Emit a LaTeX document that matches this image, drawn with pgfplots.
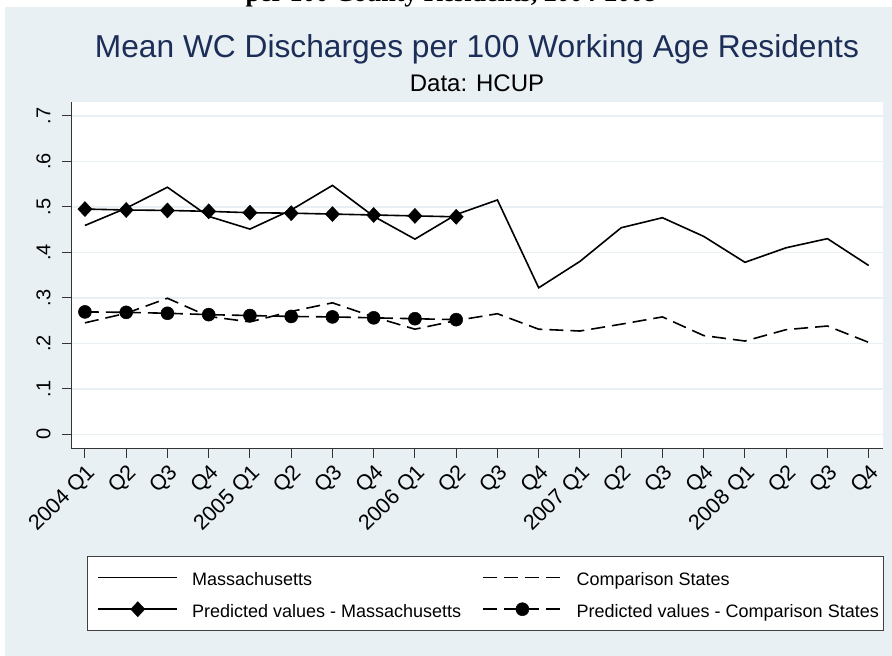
\documentclass[border=0pt]{standalone}
\usepackage{fontspec}
\setmainfont{Liberation Sans}
\newfontfamily\serifbold{Liberation Serif}
\usepackage{pgfplots}
\pgfplotsset{compat=1.18}
\definecolor{bgc}{RGB}{232,240,243}
\definecolor{navy}{RGB}{28,46,88}
\begin{document}
\begin{tikzpicture}
\useasboundingbox (0,0) rectangle (892pt,656pt);
\fill[white] (0,0) rectangle (892pt,656pt);
\begin{scope}
\clip (0,649pt) rectangle (892pt,656pt);
\node[anchor=base, font=\serifbold\bfseries\fontsize{26}{30}\selectfont, inner sep=0pt] at (451pt,654.5pt) {per 100 County Residents, 2004-2008};
\end{scope}
\fill[bgc] (5pt,0) rectangle (892pt,649pt);
\begin{axis}[
  name=ax,
  at={(71pt,207pt)}, anchor=south west,
  scale only axis, width=812pt, height=347.3pt,
  xmin=-0.338, xmax=19.347, ymin=-0.0323, ymax=0.731,
  axis background/.style={fill=white},
  axis x line*=bottom, axis y line*=left,
  axis line style={black!80, line width=1pt},
  xtick={0,...,19},
  xticklabels={2004 Q1,Q2,Q3,Q4,2005 Q1,Q2,Q3,Q4,2006 Q1,Q2,Q3,Q4,2007 Q1,Q2,Q3,Q4,2008 Q1,Q2,Q3,Q4},
  ytick={0,0.1,0.2,0.3,0.4,0.5,0.6,0.7},
  yticklabels={0,.1,.2,.3,.4,.5,.6,.7},
  tick align=outside, major tick length=9pt,
  tick style={black!80, line width=1pt},
  xticklabel style={font=\fontsize{21.5}{24}\selectfont, rotate=45, anchor=north east},
  yticklabel style={font=\fontsize{20}{24}\selectfont, rotate=90, anchor=south},
  yticklabel shift=8pt,
  /pgf/number format/assume math mode=true,
  ymajorgrids, major grid style={bgc, line width=1.5pt},
  legend columns=2,
  legend cell align=left,
  legend image code/.code={\path (0pt,0pt) (98pt,0pt); \draw[mark repeat=2,mark phase=2,#1] plot coordinates {(5pt,0pt) (44.5pt,0pt) (84pt,0pt)};},
  legend style={at={(0.0197,-0.3081)}, anchor=north west, draw=black!75, fill=white, line width=1pt,
    inner xsep=5pt, inner ysep=8pt, column sep=0pt, row sep=5.7pt,
    font=\fontsize{18}{20}\selectfont,
    nodes={inner sep=0pt, text height=21pt, text depth=5pt}},
]
\addplot[black, line width=1.6pt] coordinates {
(0,0.459) (1,0.497) (2,0.543) (3,0.479) (4,0.451) (5,0.493) (6,0.547) (7,0.479) (8,0.429) (9,0.483)
(10,0.515) (11,0.322) (12,0.380) (13,0.454) (14,0.476) (15,0.435) (16,0.378) (17,0.410) (18,0.430) (19,0.371)};
\addlegendentry{\makebox[285pt][l]{Massachusetts}}
\addplot[black, line width=1.6pt, dash pattern=on 14pt off 7pt] coordinates {
(0,0.245) (1,0.266) (2,0.299) (3,0.259) (4,0.247) (5,0.270) (6,0.289) (7,0.258) (8,0.231) (9,0.250)
(10,0.265) (11,0.231) (12,0.227) (13,0.242) (14,0.258) (15,0.217) (16,0.205) (17,0.230) (18,0.238) (19,0.202)};
\addlegendentry{Comparison States}
\addplot[black, line width=1.6pt, mark=diamond*, mark size=7.5pt, mark options={solid, line width=0.5pt, xscale=1.25}] coordinates {
(0,0.495) (1,0.493) (2,0.492) (3,0.490) (4,0.487) (5,0.486) (6,0.484) (7,0.482) (8,0.480) (9,0.478)};
\addlegendentry{\makebox[285pt][l]{Predicted values - Massachusetts}}
\addplot[black, line width=1.6pt, dash pattern=on 14pt off 7pt, mark=*, mark size=6.5pt, mark options={solid, line width=0.5pt}] coordinates {
(0,0.269) (1,0.268) (2,0.266) (3,0.263) (4,0.261) (5,0.259) (6,0.258) (7,0.256) (8,0.254) (9,0.252)};
\addlegendentry{Predicted values - Comparison States}
\end{axis}
\node[anchor=base, font=\fontsize{31.7}{36}\selectfont, text=navy, inner sep=0pt] at ([yshift=44.4pt]ax.north) {Mean WC Discharges per 100 Working Age Residents};
\node[anchor=base, font=\fontsize{24}{28}\selectfont, inner sep=0pt] at ([yshift=10pt]ax.north) {Data: HCUP};
\end{tikzpicture}
\end{document}
